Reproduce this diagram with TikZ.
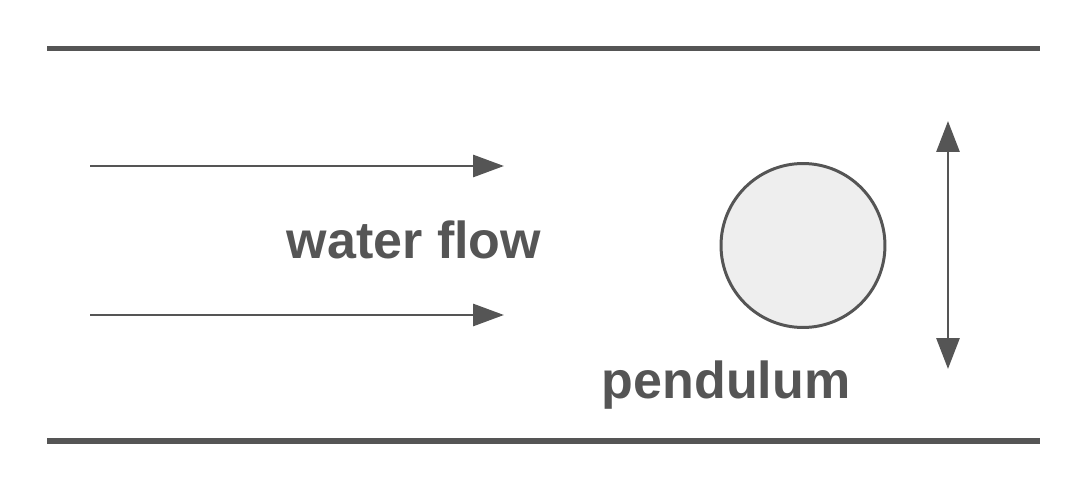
\documentclass[tikz,border=0pt]{standalone}
\usepackage{fontspec}
\setmainfont{Liberation Sans}
\usetikzlibrary{arrows.meta}
\definecolor{ink}{HTML}{555555}
\definecolor{bob}{HTML}{EEEEEE}
\begin{document}
\begin{tikzpicture}[x=0.02cm,y=-0.02cm,
  wall/.style={draw=ink,line width=3.4pt},
  flow/.style={draw=ink,line width=1.7pt,-{Triangle[length=0.62cm,width=0.44cm]}},
  swing/.style={draw=ink,line width=1.7pt,{Triangle[length=0.62cm,width=0.46cm]}-{Triangle[length=0.62cm,width=0.46cm]}},
  lbl/.style={text=ink,font=\fontsize{29.6pt}{34pt}\selectfont\bfseries,inner sep=0pt,anchor=base}]
\useasboundingbox (0,0) rectangle (1080,486);
\coordinate (tl) at (47,48.5);
\coordinate (tr) at (1040,48.5);
\coordinate (bl) at (47,441);
\coordinate (br) at (1040,441);
\draw[wall] (tl) -- (tr);
\draw[wall] (bl) -- (br);
\coordinate (a1s) at (90,166);
\coordinate (a1e) at (504,166);
\coordinate (a2s) at (90,315);
\coordinate (a2e) at (504,315);
\draw[flow] (a1s) -- (a1e);
\draw[flow] (a2s) -- (a2e);
\node[lbl] (water) at (414,259) {water flow};
\node[circle,draw=ink,fill=bob,line width=1.7pt,minimum size=3.28cm,inner sep=0pt] (bobnode) at (803,245.5) {};
\node[lbl] (pend) at (726,399) {pendulum};
\coordinate (st) at (948,121);
\coordinate (sb) at (948,369);
\draw[swing] (st) -- (sb);
\end{tikzpicture}
\end{document}
